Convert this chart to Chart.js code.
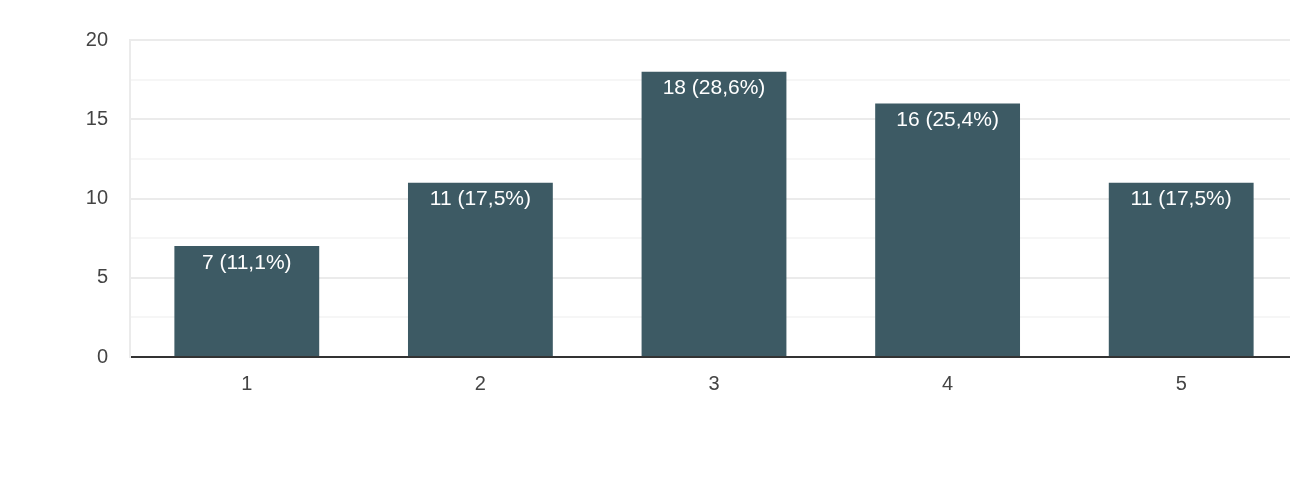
<!DOCTYPE html>
<html>
<head>
<meta charset="utf-8">
<script src="https://cdn.jsdelivr.net/npm/chart.js@4/dist/chart.umd.min.js"></script>
<style>
  html, body { margin: 0; padding: 0; background: #fff; overflow: hidden; }
  #clip { width: 1290px; height: 489px; overflow: hidden; }
  #wrap { width: 1298px; height: 489px; }
</style>
</head>
<body>
<div id="clip"><div id="wrap"><canvas id="chart"></canvas></div></div>
<script>
// data
var categories = ["1", "2", "3", "4", "5"];
var counts = [7, 11, 18, 16, 11];
var percents = ["11,1%", "17,5%", "28,6%", "25,4%", "17,5%"];
var yTicks = [0, 5, 10, 15, 20];

var fontFamily = "'Liberation Sans', Arial, sans-serif";

// labels inside the top of each bar
var barLabels = {
  id: "barLabels",
  afterDatasetsDraw: function (chart) {
    var ctx = chart.ctx;
    var meta = chart.getDatasetMeta(0);
    ctx.save();
    ctx.fillStyle = "#ffffff";
    ctx.font = "21px " + fontFamily;
    ctx.textAlign = "center";
    ctx.textBaseline = "middle";
    meta.data.forEach(function (bar, i) {
      ctx.fillText(counts[i] + " (" + percents[i] + ")", bar.x, bar.y + 17);
    });
    ctx.restore();
  },
};

var ctx = document.getElementById("chart").getContext("2d");
var chart = new Chart(ctx, {
  type: "bar",
  data: {
    labels: categories,
    datasets: [
      {
        data: counts,
        backgroundColor: "#3d5a64",
        borderWidth: 0,
        categoryPercentage: 1,
        barPercentage: 0.62,
      },
    ],
  },
  options: {
    responsive: true,
    maintainAspectRatio: false,
    animation: false,
    layout: { padding: { top: 40, right: 0, left: 0, bottom: 0 } },
    plugins: {
      legend: { display: false },
      tooltip: { enabled: false },
    },
    scales: {
      x: {
        grid: { display: false, drawTicks: false },
        border: { display: true, color: "#333333", width: 2 },
        ticks: {
          padding: 15,
          color: "#444444",
          font: { family: fontFamily, size: 20 },
        },
        afterFit: function (scale) {
          scale.height = 132;
        },
      },
      y: {
        min: 0,
        max: 20,
        ticks: {
          stepSize: 2.5,
          autoSkip: false,
          padding: 22,
          color: "#444444",
          font: { family: fontFamily, size: 20 },
          callback: function (v) {
            return yTicks.indexOf(v) >= 0 ? v : "";
          },
        },
        grid: {
          drawTicks: false,
          lineWidth: 2,
          color: function (c) {
            var v = c.tick ? c.tick.value : 0;
            return v % 5 === 0 ? "#ebebeb" : "#f6f6f6";
          },
        },
        border: { display: true, color: "#ebebeb", width: 2 },
        afterFit: function (scale) {
          scale.width = 130;
        },
      },
    },
  },
  plugins: [barLabels],
});
</script>
</body>
</html>
